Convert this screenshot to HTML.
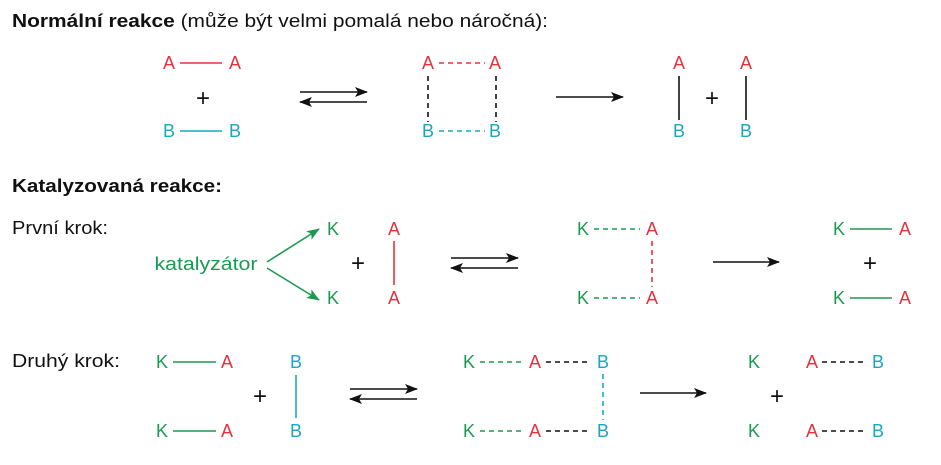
<!DOCTYPE html>
<html><head><meta charset="utf-8"><style>
html,body{margin:0;padding:0;background:#fff;}
svg{display:block;}
text{font-family:"Liberation Sans","DejaVu Sans",sans-serif;}
</style></head><body>
<svg width="941" height="465" viewBox="0 0 941 465" xmlns="http://www.w3.org/2000/svg">
<defs>
<marker id="ah" markerWidth="13" markerHeight="10" refX="12" refY="5" orient="auto" markerUnits="userSpaceOnUse"><path d="M0,0 L13,5 L0,10 L3,5 Z" fill="#111"/></marker>
<marker id="ahg" markerWidth="13" markerHeight="10" refX="12" refY="5" orient="auto" markerUnits="userSpaceOnUse"><path d="M0,0 L13,5 L0,10 L3,5 Z" fill="#1a9a50"/></marker>
</defs>
<g fill="#111" font-size="18">
<text x="12" y="27" textLength="536" lengthAdjust="spacingAndGlyphs"><tspan font-weight="bold">Normální reakce</tspan> (může být velmi pomalá nebo náročná):</text>
<text x="12" y="192" font-weight="bold" textLength="210" lengthAdjust="spacingAndGlyphs">Katalyzovaná reakce:</text>
<text x="12" y="234" textLength="96" lengthAdjust="spacingAndGlyphs">První krok:</text>
<text x="12" y="367" textLength="108" lengthAdjust="spacingAndGlyphs">Druhý krok:</text>
</g>
<g font-size="18" text-anchor="middle">
<g fill="#e5323c"><text x="169" y="69">A</text><text x="235" y="69">A</text><text x="428" y="69">A</text><text x="495" y="69">A</text><text x="679" y="69">A</text><text x="746" y="69">A</text></g>
<g fill="#1aa6c0"><text x="169" y="137">B</text><text x="235" y="137">B</text><text x="428" y="137">B</text><text x="495" y="137">B</text><text x="679" y="137">B</text><text x="746" y="137">B</text></g>
<text x="206" y="270" fill="#1a9a50" textLength="103" lengthAdjust="spacingAndGlyphs">katalyzátor</text>
<g fill="#1a9a50"><text x="333" y="235">K</text><text x="333" y="304">K</text><text x="583" y="235">K</text><text x="583" y="304">K</text><text x="839" y="235">K</text><text x="839" y="304">K</text></g>
<g fill="#e5323c"><text x="394" y="235">A</text><text x="394" y="304">A</text><text x="652" y="235">A</text><text x="652" y="304">A</text><text x="905" y="235">A</text><text x="905" y="304">A</text></g>
<g fill="#1a9a50"><text x="162" y="368">K</text><text x="162" y="437">K</text><text x="469" y="368">K</text><text x="469" y="437">K</text><text x="754" y="368">K</text><text x="754" y="437">K</text></g>
<g fill="#e5323c"><text x="227" y="368">A</text><text x="227" y="437">A</text><text x="535" y="368">A</text><text x="535" y="437">A</text><text x="812" y="368">A</text><text x="812" y="437">A</text></g>
<g fill="#1aa6c0"><text x="296" y="368">B</text><text x="296" y="437">B</text><text x="603" y="368">B</text><text x="603" y="437">B</text><text x="878" y="368">B</text><text x="878" y="437">B</text></g>
</g>
<g font-size="24" text-anchor="middle" fill="#111">
<text x="203" y="106">+</text><text x="712" y="106">+</text>
<text x="358" y="271">+</text><text x="870" y="271">+</text>
<text x="260" y="404">+</text><text x="777" y="404">+</text>
</g>
<g stroke-width="1.6" fill="none">
<line x1="180" y1="63" x2="222" y2="63" stroke="#e5323c"/>
<line x1="180" y1="131" x2="222" y2="131" stroke="#1aa6c0"/>
<line x1="439" y1="63" x2="485" y2="63" stroke="#e5323c" stroke-dasharray="5,4"/>
<line x1="439" y1="131" x2="485" y2="131" stroke="#1aa6c0" stroke-dasharray="5,4"/>
<line x1="428" y1="76" x2="428" y2="122" stroke="#111" stroke-dasharray="5,4"/>
<line x1="496" y1="76" x2="496" y2="122" stroke="#111" stroke-dasharray="5,4"/>
<line x1="679" y1="76" x2="679" y2="120" stroke="#111"/>
<line x1="746" y1="76" x2="746" y2="120" stroke="#111"/>
<line x1="300" y1="92" x2="367" y2="92" stroke="#111" marker-end="url(#ah)"/>
<line x1="367" y1="102" x2="300" y2="102" stroke="#111" marker-end="url(#ah)"/>
<line x1="556" y1="97" x2="623" y2="97" stroke="#111" marker-end="url(#ah)"/>
<line x1="267" y1="262" x2="319" y2="229" stroke="#1a9a50" marker-end="url(#ahg)"/>
<line x1="267" y1="268" x2="319" y2="300" stroke="#1a9a50" marker-end="url(#ahg)"/>
<line x1="394" y1="241" x2="394" y2="285" stroke="#e5323c"/>
<line x1="451" y1="258" x2="518" y2="258" stroke="#111" marker-end="url(#ah)"/>
<line x1="518" y1="268" x2="451" y2="268" stroke="#111" marker-end="url(#ah)"/>
<line x1="594" y1="229" x2="640" y2="229" stroke="#1a9a50" stroke-dasharray="5,4"/>
<line x1="594" y1="298" x2="640" y2="298" stroke="#1a9a50" stroke-dasharray="5,4"/>
<line x1="652" y1="241" x2="652" y2="287" stroke="#e5323c" stroke-dasharray="5,4"/>
<line x1="713" y1="262" x2="779" y2="262" stroke="#111" marker-end="url(#ah)"/>
<line x1="850" y1="229" x2="892" y2="229" stroke="#1a9a50"/>
<line x1="850" y1="298" x2="892" y2="298" stroke="#1a9a50"/>
<line x1="173" y1="362" x2="216" y2="362" stroke="#1a9a50"/>
<line x1="173" y1="431" x2="216" y2="431" stroke="#1a9a50"/>
<line x1="296" y1="375" x2="296" y2="418" stroke="#1aa6c0"/>
<line x1="350" y1="389" x2="417" y2="389" stroke="#111" marker-end="url(#ah)"/>
<line x1="417" y1="399" x2="350" y2="399" stroke="#111" marker-end="url(#ah)"/>
<line x1="480" y1="362" x2="524" y2="362" stroke="#1a9a50" stroke-dasharray="5,4"/>
<line x1="480" y1="431" x2="524" y2="431" stroke="#1a9a50" stroke-dasharray="5,4"/>
<line x1="546" y1="362" x2="590" y2="362" stroke="#111" stroke-dasharray="5,4"/>
<line x1="546" y1="431" x2="590" y2="431" stroke="#111" stroke-dasharray="5,4"/>
<line x1="603" y1="374" x2="603" y2="420" stroke="#1aa6c0" stroke-dasharray="5,4"/>
<line x1="640" y1="393" x2="706" y2="393" stroke="#111" marker-end="url(#ah)"/>
<line x1="822" y1="362" x2="866" y2="362" stroke="#111" stroke-dasharray="5,4"/>
<line x1="822" y1="431" x2="866" y2="431" stroke="#111" stroke-dasharray="5,4"/>
</g>
</svg>
</body></html>
